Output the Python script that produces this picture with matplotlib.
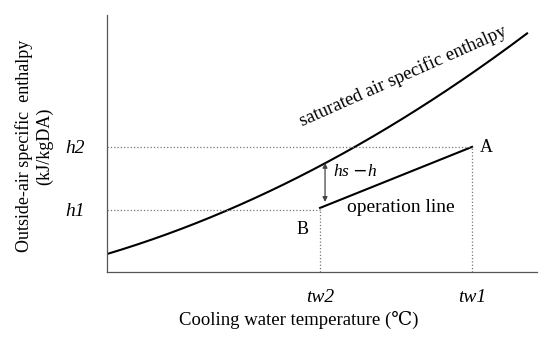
import numpy as np
import matplotlib.pyplot as plt

# saturated air specific enthalpy curve
sat_t = [0, 93, 143, 220, 276, 296, 420]
sat_h = [17, 52, 72, 109, 142, 152, 239]

# operation line from B to A
op_t = [213, 365]
op_h = [64, 125]

tw_labels = ['tw2', 'tw1']
tw_vals = [213, 365]
h_labels = ['h1', 'h2']
h_vals = [62, 125]

# hs - h arrow
arrow_t = 218
arrow_h = [109, 70]

serif = ['Liberation Serif', 'DejaVu Serif']

fig = plt.figure(figsize=(5.5, 3.37), dpi=100)
ax = fig.add_axes([0.1945, 0.193, 0.782, 0.763])

# smooth the curve a bit through the read points
tt = np.linspace(sat_t[0], sat_t[-1], 200)
coef = np.polyfit(sat_t, sat_h, 2)
ax.plot(tt, np.polyval(coef, tt), color='black', lw=1.5)
ax.plot(op_t, op_h, color='black', lw=1.5)

# dotted guides
ax.plot([0, tw_vals[1]], [h_vals[1], h_vals[1]], ls=':', color='#777777', lw=0.9)
ax.plot([0, tw_vals[0]], [h_vals[0], h_vals[0]], ls=':', color='#777777', lw=0.9)
ax.plot([tw_vals[0], tw_vals[0]], [0, op_h[0]], ls=':', color='#777777', lw=0.9)
ax.plot([tw_vals[1], tw_vals[1]], [0, op_h[1]], ls=':', color='#777777', lw=0.9)

ax.annotate('', xy=(arrow_t, arrow_h[1]), xytext=(arrow_t, arrow_h[0]),
            arrowprops=dict(arrowstyle='<|-|>', color='#444444', lw=0.9,
                            mutation_scale=7, shrinkA=0, shrinkB=0))

ax.text(226, 96, r'hs $-$h', fontsize=12.5, family=serif, style='italic')
ax.text(240, 60, 'operation line', fontsize=14, family=serif)
ax.text(373, 120, 'A', fontsize=13, family=serif)
ax.text(189, 38, 'B', fontsize=13, family=serif)
ax.text(296, 196, 'saturated air specific enthalpy', fontsize=13.5, family=serif,
        rotation=24, ha='center', va='center', rotation_mode='anchor')

ax.set_xlim(0, 430)
ax.set_ylim(0, 257)
ax.set_xticks(tw_vals)
ax.set_xticklabels(tw_labels, fontsize=14, family=serif, style='italic')
ax.set_yticks(h_vals)
ax.set_yticklabels(h_labels, fontsize=14, family=serif, style='italic')
ax.tick_params(axis='x', length=0, pad=12)
ax.tick_params(axis='y', length=0, pad=30)
for lab in ax.get_yticklabels():
    lab.set_horizontalalignment('left')
ax.set_xlabel('Cooling water temperature (\u2103)', fontsize=13.5, family=serif)
ax.xaxis.set_label_coords(0.447, -0.15)
ax.set_ylabel('Outside-air specific  enthalpy\n(kJ/kgDA)', fontsize=13, family=serif)
ax.yaxis.set_label_coords(-0.125, 0.49)

for s in ['top', 'right']:
    ax.spines[s].set_visible(False)
for s in ['left', 'bottom']:
    ax.spines[s].set_color('#555555')
    ax.spines[s].set_linewidth(0.9)

fig.savefig('out.png', dpi=100)
